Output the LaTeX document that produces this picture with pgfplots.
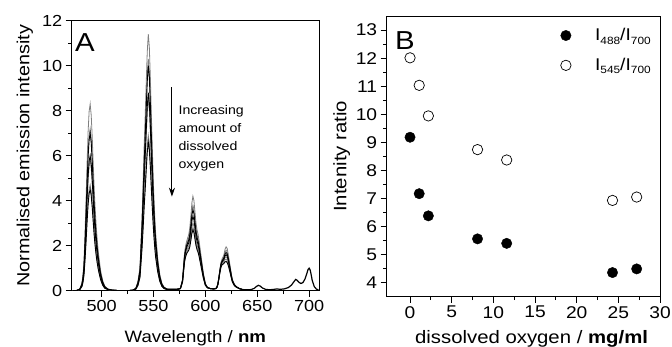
\documentclass[border=0pt]{standalone}
\usepackage{pgfplots}
\pgfplotsset{compat=1.18}
\usepackage{pgfplotstable}
\usepackage{fontspec}
\setmainfont[FakeStretch=1.13]{Liberation Sans}
\usetikzlibrary{arrows.meta}
\newcommand{\sub}[1]{\raisebox{-0.35ex}{\fontsize{10.5}{10.5}\selectfont #1}}

\pgfplotstableread{
l c1 c2 c3 c4 c5 c6 c7
472 0.01 0.01 0.01 0.01 0.01 0.01 0.01
476 0.01 0.01 0.01 0.01 0.01 0.01 0.01
479 0.08 0.07 0.07 0.06 0.06 0.05 0.05
481 0.33 0.29 0.28 0.24 0.23 0.19 0.18
482 0.66 0.58 0.56 0.48 0.46 0.38 0.36
483 1.25 1.08 1.05 0.90 0.87 0.71 0.68
484 2.49 2.16 2.10 1.80 1.74 1.41 1.35
485 3.98 3.46 3.36 2.88 2.78 2.26 2.16
486 5.64 4.90 4.76 4.08 3.94 3.20 3.06
487 7.06 6.12 5.95 5.10 4.93 4.00 3.83
488 7.97 6.91 6.72 5.76 5.57 4.51 4.32
489 8.30 7.20 7.00 6.00 5.80 4.70 4.50
490 7.80 6.77 6.58 5.64 5.45 4.42 4.23
491 6.81 5.90 5.74 4.92 4.76 3.85 3.69
492 5.56 4.82 4.69 4.02 3.89 3.15 3.02
493 4.40 3.82 3.71 3.18 3.07 2.49 2.39
494 3.49 3.02 2.94 2.52 2.44 1.97 1.89
495 2.74 2.38 2.31 1.98 1.91 1.55 1.49
496 2.16 1.87 1.82 1.56 1.51 1.22 1.17
497 1.66 1.44 1.40 1.20 1.16 0.94 0.90
499 0.91 0.79 0.77 0.66 0.64 0.52 0.50
501 0.46 0.40 0.39 0.33 0.32 0.26 0.25
503 0.21 0.18 0.18 0.15 0.15 0.12 0.11
506 0.08 0.07 0.07 0.06 0.06 0.05 0.05
510 0.03 0.03 0.03 0.02 0.02 0.02 0.02
515 0.01 0.01 0.01 0.01 0.01 0.01 0.01
520 0.01 0.01 0.01 0.01 0.01 0.01 0.01
527 0.01 0.01 0.01 0.01 0.01 0.01 0.01
530 0.02 0.02 0.02 0.02 0.02 0.02 0.02
533 0.11 0.10 0.10 0.09 0.09 0.07 0.07
535 0.40 0.36 0.35 0.31 0.30 0.24 0.23
537 1.03 0.93 0.90 0.79 0.77 0.62 0.59
538 2.17 1.96 1.90 1.67 1.62 1.31 1.25
539 3.31 2.99 2.90 2.55 2.47 2.00 1.91
540 4.79 4.33 4.20 3.70 3.57 2.90 2.77
541 6.38 5.77 5.60 4.93 4.76 3.86 3.70
542 7.75 7.00 6.80 5.98 5.78 4.69 4.49
543 9.23 8.34 8.10 7.13 6.89 5.59 5.35
544 10.60 9.58 9.30 8.18 7.91 6.42 6.14
545 11.40 10.30 10.00 8.80 8.50 6.90 6.60
546 10.83 9.79 9.50 8.36 8.08 6.56 6.27
547 9.46 8.55 8.30 7.30 7.06 5.73 5.48
548 7.75 7.00 6.80 5.98 5.78 4.69 4.49
549 6.16 5.56 5.40 4.75 4.59 3.73 3.56
550 4.67 4.22 4.10 3.61 3.49 2.83 2.71
551 3.53 3.19 3.10 2.73 2.64 2.14 2.05
552 2.62 2.37 2.30 2.02 1.96 1.59 1.52
554 1.48 1.34 1.30 1.14 1.11 0.90 0.86
556 0.74 0.67 0.65 0.57 0.55 0.45 0.43
558 0.34 0.31 0.30 0.26 0.26 0.21 0.20
560 0.17 0.15 0.15 0.13 0.13 0.10 0.10
563 0.08 0.07 0.07 0.06 0.06 0.05 0.05
567 0.06 0.06 0.06 0.06 0.06 0.06 0.06
571 0.06 0.06 0.06 0.06 0.06 0.06 0.06
574 0.07 0.07 0.07 0.07 0.07 0.07 0.07
576 0.12 0.11 0.11 0.10 0.10 0.09 0.09
578 0.50 0.48 0.46 0.44 0.42 0.40 0.38
579 1.10 1.06 1.01 0.97 0.92 0.88 0.84
580 1.70 1.63 1.56 1.51 1.42 1.36 1.29
581 2.00 1.92 1.83 1.76 1.67 1.59 1.51
582 2.20 2.10 2.01 1.92 1.82 1.73 1.65
583 2.35 2.23 2.13 2.03 1.91 1.82 1.73
584 2.50 2.35 2.25 2.13 1.99 1.89 1.80
585 2.80 2.61 2.48 2.33 2.17 2.05 1.95
586 3.30 3.04 2.89 2.68 2.47 2.32 2.23
587 3.90 3.55 3.36 3.10 2.82 2.64 2.55
588 4.20 3.80 3.60 3.30 3.00 2.80 2.70
589 4.00 3.62 3.43 3.15 2.87 2.67 2.58
590 3.50 3.18 3.02 2.79 2.54 2.38 2.29
591 3.00 2.75 2.62 2.42 2.22 2.08 2.00
592 2.70 2.49 2.36 2.20 2.03 1.90 1.82
593 2.50 2.31 2.19 2.04 1.88 1.77 1.70
594 2.20 2.04 1.94 1.81 1.68 1.58 1.51
596 1.50 1.39 1.33 1.25 1.16 1.09 1.04
598 0.80 0.75 0.71 0.68 0.63 0.59 0.57
600 0.32 0.30 0.29 0.27 0.26 0.25 0.24
602 0.15 0.15 0.14 0.14 0.13 0.13 0.13
605 0.09 0.09 0.09 0.09 0.09 0.09 0.09
608 0.08 0.08 0.08 0.08 0.08 0.08 0.08
610 0.10 0.10 0.10 0.09 0.09 0.09 0.09
611 0.15 0.15 0.14 0.14 0.14 0.13 0.13
612 0.30 0.29 0.29 0.28 0.27 0.26 0.26
613 0.60 0.58 0.57 0.55 0.54 0.52 0.51
614 0.95 0.92 0.90 0.87 0.85 0.82 0.80
615 1.25 1.20 1.18 1.13 1.11 1.06 1.04
616 1.40 1.34 1.31 1.27 1.23 1.18 1.15
617 1.50 1.43 1.39 1.33 1.28 1.23 1.18
618 1.62 1.53 1.47 1.40 1.34 1.27 1.22
619 1.85 1.72 1.64 1.55 1.47 1.38 1.28
620 1.95 1.80 1.70 1.60 1.50 1.40 1.30
621 1.88 1.74 1.64 1.54 1.45 1.35 1.25
622 1.65 1.53 1.46 1.37 1.29 1.21 1.13
623 1.35 1.26 1.20 1.13 1.08 1.02 0.96
624 1.05 0.99 0.95 0.91 0.86 0.82 0.77
625 0.75 0.71 0.68 0.65 0.62 0.59 0.57
626 0.50 0.48 0.46 0.44 0.42 0.41 0.39
628 0.28 0.27 0.26 0.25 0.24 0.23 0.22
630 0.18 0.17 0.17 0.16 0.16 0.15 0.15
633 0.09 0.09 0.09 0.09 0.09 0.09 0.09
636 0.05 0.05 0.05 0.05 0.05 0.05 0.05
}\specA

\pgfplotstableread{
l v
636 0.05
640 0.04
644 0.05
647 0.10
649 0.18
651 0.24
653 0.20
655 0.12
658 0.06
662 0.04
666 0.06
669 0.08
672 0.06
676 0.08
680 0.14
683 0.25
685 0.38
687 0.50
688 0.48
690 0.38
692 0.32
694 0.36
696 0.52
698 0.80
699 0.95
700 1.00
701 0.92
702 0.70
703 0.45
705 0.18
707 0.07
709 0.04
}\tailA

\pgfplotstableread{
x r
0.0 9.18
1.1 7.17
2.2 6.38
8.1 5.56
11.6 5.40
24.3 4.36
27.2 4.49
}\ratioA

\pgfplotstableread{
x r
0.0 12.01
1.1 11.03
2.2 9.94
8.1 8.74
11.6 8.37
24.3 6.93
27.2 7.05
}\ratioB

\begin{document}
\begin{tikzpicture}
\path[use as bounding box] (0,0) rectangle (672pt,347pt);

\begin{axis}[
  at={(71.7pt,56.3pt)}, anchor=south west,
  scale only axis, width=247.3pt, height=270pt,
  xmin=471.2, xmax=709.5, ymin=0, ymax=12,
  xtick={500,550,600,650,700}, ytick={0,2,4,6,8,10,12},
  minor x tick num=1, minor y tick num=1,
  xtick pos=bottom, ytick pos=left,
  tick align=outside,
  major tick length=6pt, minor tick length=3.5pt,
  axis line style={line width=0.8pt},
  every tick/.style={line width=0.8pt, black},
  /pgf/number format/assume math mode=true,
  tick label style={font=\fontsize{16}{16}\selectfont},
  xlabel={Wavelength / \textbf{nm}},
  ylabel={Normalised emission intensity},
  every axis x label/.style={at={(axis description cs:0.5,-0.193)}, anchor=base, font=\fontsize{16.5}{16.5}\selectfont},
  every axis y label/.style={at={(axis description cs:-0.189,0.5)}, rotate=90, anchor=center, font=\fontsize{17.5}{17.5}\selectfont},
  clip=true,
]
\addplot[black!50, line width=0.8pt] table[x=l,y=c1]{\specA};
\addplot[black!50, line width=0.8pt] table[x=l,y=c2]{\specA};
\addplot[black!50, line width=0.8pt] table[x=l,y=c5]{\specA};
\addplot[black!50, line width=0.8pt] table[x=l,y=c6]{\specA};
\addplot[black, line width=0.9pt] table[x=l,y=c3]{\specA};
\addplot[black, line width=0.9pt] table[x=l,y=c4]{\specA};
\addplot[black, line width=0.9pt] table[x=l,y=c7]{\specA};
\addplot[black, line width=1.2pt] table[x=l,y=v]{\tailA};
\draw[-{Stealth[length=9pt,width=6pt]}, line width=0.9pt] (axis cs:567.8,9.04) -- (axis cs:567.8,4.18);
\node[anchor=north west, inner sep=0pt, align=left, font=\fontsize{12.5}{18}\selectfont] at (axis cs:574,8.25) {Increasing\\amount of\\dissolved\\oxygen};
\node[anchor=north west, inner sep=0pt, font=\fontsize{26}{26}\selectfont] at (axis description cs:0.013,0.954) {A};
\end{axis}

\begin{axis}[
  at={(386.7pt,50.3pt)}, anchor=south west,
  scale only axis, width=273.3pt, height=280.7pt,
  xmin=-2.8, xmax=30, ymin=3.5, ymax=13.5,
  xtick={0,5,10,15,20,25,30}, ytick={4,5,6,7,8,9,10,11,12,13},
  minor x tick num=1, minor y tick num=1,
  xtick pos=bottom, ytick pos=left,
  tick align=outside,
  major tick length=6pt, minor tick length=3.5pt,
  axis line style={line width=0.8pt},
  every tick/.style={line width=0.8pt, black},
  /pgf/number format/assume math mode=true,
  tick label style={font=\fontsize{17}{17}\selectfont},
  xlabel={dissolved oxygen / \textbf{mg/ml}},
  ylabel={Intenity ratio},
  every axis x label/.style={at={(axis description cs:0.53,-0.166)}, anchor=base, font=\fontsize{18}{18}\selectfont},
  every axis y label/.style={at={(axis description cs:-0.165,0.5)}, rotate=90, anchor=center, font=\fontsize{18}{18}\selectfont},
  legend style={draw=none, fill=none, at={(axis description cs:0.985,0.97)}, anchor=north east,
    font=\fontsize{17}{17}\selectfont, row sep=12pt,
    /tikz/every odd column/.append style={column sep=22pt}},
  legend cell align=left,
  clip=false,
]
\addplot[only marks, mark=*, mark size=5.2pt, mark options={fill=black, draw=black}] table[x=x,y=r]{\ratioA};
\addlegendentry{I\sub{488}/I\sub{700}}
\addplot[only marks, mark=*, mark size=5.2pt, mark options={fill=white, draw=black, line width=0.7pt}] table[x=x,y=r]{\ratioB};
\addlegendentry{I\sub{545}/I\sub{700}}
\node[anchor=north west, inner sep=0pt, font=\fontsize{26}{26}\selectfont] at (axis description cs:0.030,0.944) {B};
\end{axis}
\end{tikzpicture}
\end{document}
